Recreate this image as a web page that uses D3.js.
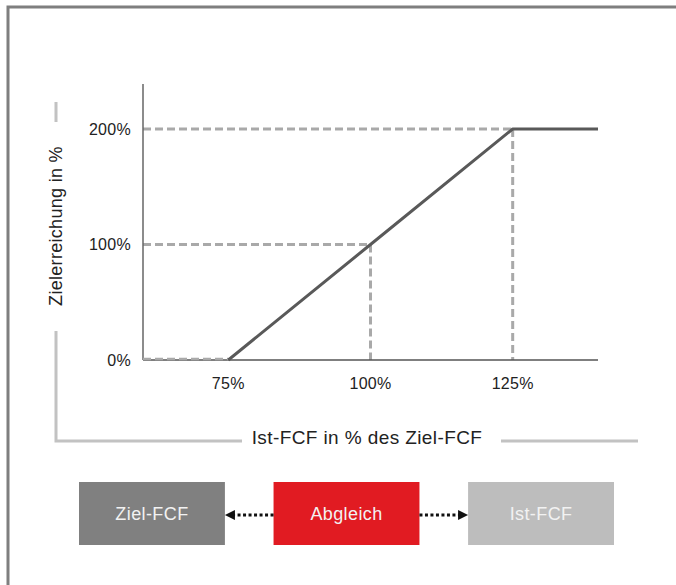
<!DOCTYPE html>
<html>
<head>
<meta charset="utf-8">
<script src="https://cdn.jsdelivr.net/npm/d3@7"></script>
<style>
  html, body { margin: 0; padding: 0; background: #fff; }
  svg { display: block; }
  text { font-family: "Liberation Sans", Arial, sans-serif; }
</style>
</head>
<body>
<svg id="chart" width="676" height="585"></svg>
<script>
// Payout curve: Zielerreichung as a function of Ist-FCF in % des Ziel-FCF
const curveX = [60, 75, 100, 125, 140];
const curveY = [0, 0, 100, 200, 200];
const xTicks = [75, 100, 125];
const yTicks = [0, 100, 200];
const guideX = [100, 125];          // vertical reference lines
const guideY = [100, 200];          // horizontal reference lines
const boxLabels = ["Ziel-FCF", "Abgleich", "Ist-FCF"];
const boxColors = ["#808080", "#e11b22", "#bdbdbd"];

const svg = d3.select("#chart");

// outer frame
svg.append("rect")
  .attr("x", 8).attr("y", 7).attr("width", 700).attr("height", 620)
  .attr("fill", "none").attr("stroke", "#7f7f7f").attr("stroke-width", 3);

const x = d3.scaleLinear().domain([60, 140]).range([143, 598]);
const y = d3.scaleLinear().domain([0, 200]).range([360, 129]);

const guideColor = "#a9a9a9";
const dash = "8,4";

// horizontal guides from the axis to the curve
svg.selectAll("line.gy").data(guideY).join("line")
  .attr("class", "gy")
  .attr("x1", x(60)).attr("x2", (d, i) => x(guideX[i]))
  .attr("y1", d => y(d)).attr("y2", d => y(d))
  .attr("stroke", guideColor).attr("stroke-width", 3).attr("stroke-dasharray", dash);

// vertical guides from the curve down to the baseline
svg.selectAll("line.gx").data(guideX).join("line")
  .attr("class", "gx")
  .attr("x1", d => x(d)).attr("x2", d => x(d))
  .attr("y1", (d, i) => y(guideY[i])).attr("y2", y(0))
  .attr("stroke", guideColor).attr("stroke-width", 3).attr("stroke-dasharray", dash);

// axes
svg.append("line")
  .attr("x1", x(60)).attr("x2", x(60)).attr("y1", 84).attr("y2", y(0))
  .attr("stroke", "#666").attr("stroke-width", 1.5);
svg.append("line")
  .attr("x1", x(60)).attr("x2", x(140)).attr("y1", y(0)).attr("y2", y(0))
  .attr("stroke", "#555").attr("stroke-width", 1.5);

// dashed segment of the curve below the threshold
svg.append("path")
  .datum(curveX.slice(0, 2).map((d, i) => [d, curveY[i]]))
  .attr("d", d3.line().x(d => x(d[0])).y(d => y(d[1]) - 1))
  .attr("fill", "none").attr("stroke", guideColor)
  .attr("stroke-width", 2.5).attr("stroke-dasharray", dash);

// solid curve
svg.append("path")
  .datum(curveX.slice(1).map((d, i) => [d, curveY[i + 1]]))
  .attr("d", d3.line().x(d => x(d[0])).y(d => y(d[1])))
  .attr("fill", "none").attr("stroke", "#595959").attr("stroke-width", 3)
  .attr("stroke-linejoin", "round");

// tick labels
svg.selectAll("text.yt").data(yTicks).join("text")
  .attr("class", "yt")
  .attr("x", 131).attr("y", d => y(d)).attr("dy", "0.36em")
  .attr("text-anchor", "end").attr("font-size", 16).attr("letter-spacing", 0.3)
  .attr("fill", "#222")
  .text(d => d + "%");
svg.selectAll("text.xt").data(xTicks).join("text")
  .attr("class", "xt")
  .attr("x", d => x(d)).attr("y", 389)
  .attr("text-anchor", "middle").attr("font-size", 16).attr("letter-spacing", 0.3)
  .attr("fill", "#222")
  .text(d => d + "%");

// axis titles with bracket lines
const bracket = "#c2c2c2";
svg.append("path")
  .attr("d", "M56,102V122 M56,331V441H242 M501,441H638")
  .attr("fill", "none").attr("stroke", bracket).attr("stroke-width", 3);

svg.append("text")
  .attr("transform", "translate(62,226) rotate(-90)")
  .attr("text-anchor", "middle").attr("font-size", 18).attr("letter-spacing", 0.3)
  .attr("fill", "#222")
  .text("Zielerreichung in %");

svg.append("text")
  .attr("x", 367).attr("y", 444)
  .attr("text-anchor", "middle").attr("font-size", 19).attr("letter-spacing", 0.4)
  .attr("fill", "#222")
  .text("Ist-FCF in % des Ziel-FCF");

// process boxes
const boxX = d3.scaleBand().domain(boxLabels).range([79, 614]).paddingInner(0.25);
const boxTop = 482, boxH = 63;
const boxes = svg.selectAll("g.box").data(boxLabels).join("g").attr("class", "box");
boxes.append("rect")
  .attr("x", d => boxX(d)).attr("y", boxTop)
  .attr("width", boxX.bandwidth()).attr("height", boxH)
  .attr("fill", (d, i) => boxColors[i]);
boxes.append("text")
  .attr("x", d => boxX(d) + boxX.bandwidth() / 2).attr("y", boxTop + boxH / 2)
  .attr("dy", "0.36em").attr("text-anchor", "middle")
  .attr("font-size", 18).attr("letter-spacing", 0.4).attr("fill", "#f2f2f2")
  .text(d => d);

// dotted arrows from the centre box to its neighbours
const midY = boxTop + boxH / 2 + 1.5;
const arrows = [
  { from: boxX("Abgleich"), to: boxX("Ziel-FCF") + boxX.bandwidth() },
  { from: boxX("Abgleich") + boxX.bandwidth(), to: boxX("Ist-FCF") }
];
arrows.forEach(a => {
  const dir = Math.sign(a.to - a.from);
  svg.append("line")
    .attr("x1", a.from).attr("x2", a.to - dir * 9)
    .attr("y1", midY).attr("y2", midY)
    .attr("stroke", "#111").attr("stroke-width", 3).attr("stroke-dasharray", "3,2.5");
  svg.append("path")
    .attr("d", `M${a.to},${midY} L${a.to - dir * 10},${midY - 5} L${a.to - dir * 10},${midY + 5}Z`)
    .attr("fill", "#111");
});
</script>
</body>
</html>
